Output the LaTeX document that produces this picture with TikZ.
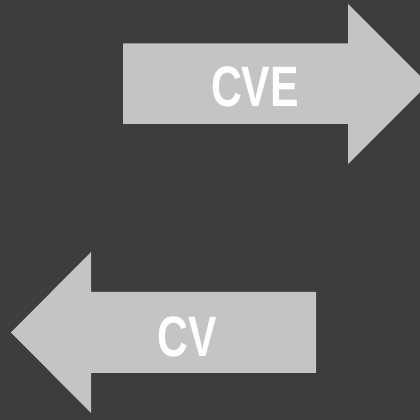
\documentclass[tikz,border=0pt]{standalone}
\usepackage{tikz}
\usepackage{fontspec}
\setmainfont{Liberation Sans}

\begin{document}
\begin{tikzpicture}[x=1pt,y=1pt,line join=miter]
			\definecolor{bgdark}{HTML}{3D3D3D}
			\definecolor{arrowgray}{HTML}{C4C4C4}
			\fill[bgdark] (0,0) rectangle (420,420);
			\useasboundingbox (0,0) rectangle (420,420);
			\clip (0,0) rectangle (420,420);
			\fill[arrowgray] (123,376.5) -- (348,376.5) -- (348,416) -- (428,336) -- (348,256) -- (348,296) -- (123,296) -- cycle;
			\fill[arrowgray] (316,128) -- (91,128) -- (91,168) -- (11,87.5) -- (91,7) -- (91,47) -- (316,47) -- cycle;
			\begin{scope}[every node/.style={color=white,inner sep=0pt,font=\fontsize{57}{57}\selectfont\bfseries,xscale=0.75}]
				\node (cve) at (255,333.5) {CVE};
				\node (cv) at (187.5,83.5) {CV};
			\end{scope}
		\end{tikzpicture}
\end{document}
